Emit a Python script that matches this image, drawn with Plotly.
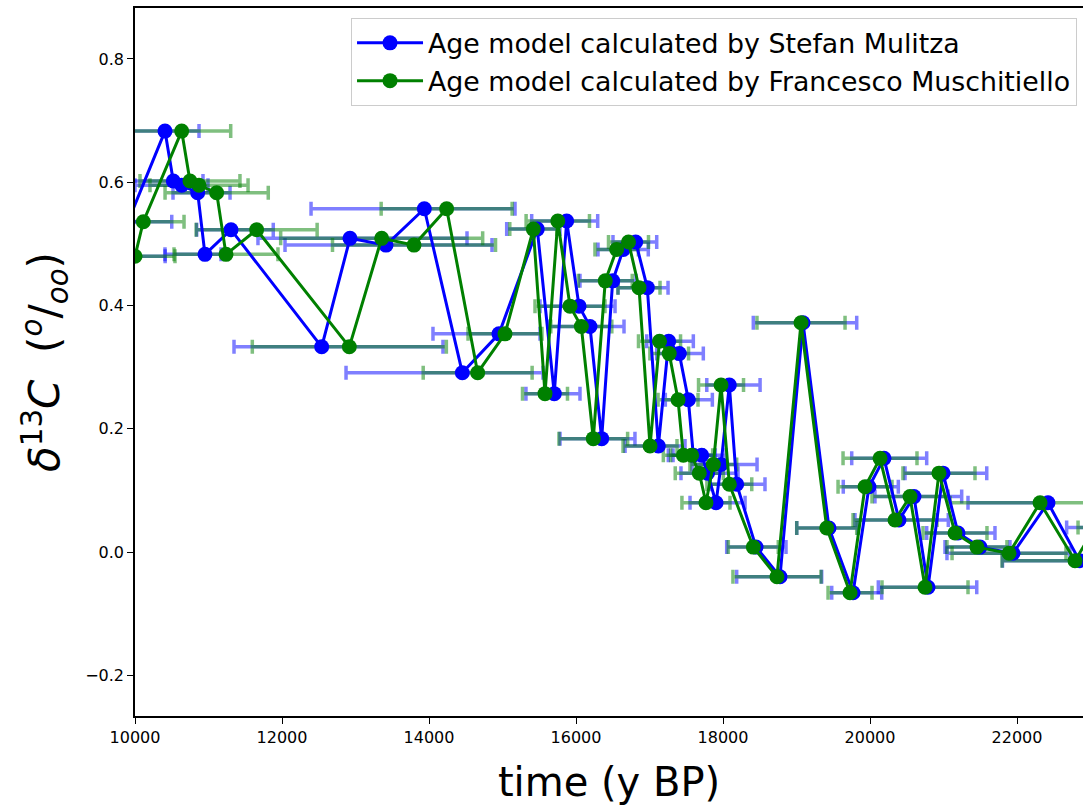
import plotly.graph_objects as go

# Shared d13C values (same samples for both age models)
d13c = [0.480, 0.536, 0.683, 0.602, 0.595, 0.583, 0.483, 0.523, 0.333, 0.509,
        0.498, 0.557, 0.291, 0.354, 0.524, 0.257, 0.537, 0.399, 0.366, 0.184,
        0.440, 0.491, 0.503, 0.429, 0.172, 0.342, 0.322, 0.247, 0.157, 0.157,
        0.128, 0.080, 0.142, 0.271, 0.110, 0.008, -0.040, 0.372, 0.039, -0.066,
        0.106, 0.152, 0.052, 0.090, -0.057, 0.128, 0.031, 0.008, -0.002, 0.080,
        -0.014, 0.040]

# Age model by Stefan Mulitza (blue)
mulitza_age = [9810, 9905, 10408, 10521, 10635, 10853, 10952, 11306, 12540, 12925,
               13415, 13936, 14453, 14952, 15473, 15704, 15873, 16041, 16190, 16349,
               16499, 16643, 16812, 16970, 17120, 17261, 17405, 17528, 17596, 17710,
               17789, 17905, 17973, 18086, 18186, 18449, 18775, 19088, 19442, 19769,
               19986, 20190, 20394, 20598, 20789, 20993, 21197, 21496, 21945, 22421,
               22850, 23265]
mulitza_err_minus = [500, 500, 700, 653, 635, 336, 544, 467, 1193, 1252,
                     1374, 1541, 1582, 898, 416, 385, 476, 531, 558, 567,
                     445, 344, 309, 399, 453, 299, 307, 313, 340, 390,
                     361, 354, 395, 307, 363, 399, 589, 676, 439, 290,
                     350, 439, 599, 531, 676, 517, 426, 476, 898, 1088,
                     1048, 590]
mulitza_err_plus = [600, 595, 463, 404, 358, 440, 218, 575, 1650, 1592,
                    1442, 1234, 1098, 558, 309, 350, 422, 490, 463, 453,
                    317, 340, 286, 282, 363, 335, 327, 327, 299, 331,
                    415, 395, 490, 418, 385, 408, 567, 731, 395, 390,
                    399, 581, 671, 649, 663, 595, 503, 408, 775, 0,
                    900, 600]

# Age model by Francesco Muschitiello (green)
musch_age = [10000, 10113, 10635, 10748, 10871, 11111, 11238, 11655, 12916, 13356,
             13796, 14240, 14662, 15034, 15419, 15578, 15752, 15918, 16072, 16235,
             16398, 16553, 16714, 16857, 17007, 17136, 17268, 17388, 17460, 17573,
             17677, 17768, 17868, 17973, 18086, 18412, 18734, 19061, 19411, 19728,
             19932, 20136, 20340, 20544, 20748, 20938, 21156, 21455, 21891, 22313,
             22789, 23061]
musch_err = [544, 554, 667, 680, 667, 702, 707, 823, 1320, 1374,
             1109, 891, 741, 503, 320, 306, 431, 476, 415, 467,
             367, 295, 272, 286, 367, 286, 263, 272, 272, 286,
             327, 327, 318, 306, 305, 340, 599, 599, 408, 299,
             367, 503, 571, 517, 585, 490, 435, 408, 775, 1224,
             993, 231]

x_ticks = [10000, 12000, 14000, 16000, 18000, 20000, 22000]
y_ticks = [-0.2, 0.0, 0.2, 0.4, 0.6, 0.8]

FONT = "DejaVu Sans"
fig = go.Figure()

# error bars (drawn below the lines)
fig.add_trace(go.Scatter(
    x=mulitza_age, y=d13c, mode="markers",
    marker=dict(size=1, color="rgba(0,0,0,0)"),
    error_x=dict(type="data", symmetric=False, array=mulitza_err_plus,
                 arrayminus=mulitza_err_minus, color="rgba(0,0,255,0.5)",
                 thickness=3.5, width=7),
    showlegend=False, hoverinfo="skip"))
fig.add_trace(go.Scatter(
    x=musch_age, y=d13c, mode="markers",
    marker=dict(size=1, color="rgba(0,0,0,0)"),
    error_x=dict(type="data", symmetric=True, array=musch_err,
                 color="rgba(0,128,0,0.5)", thickness=3.5, width=7),
    showlegend=False, hoverinfo="skip"))

fig.add_trace(go.Scatter(
    x=mulitza_age, y=d13c, mode="lines+markers",
    name="Age model calculated by Stefan Mulitza",
    line=dict(color="#0000ff", width=3),
    marker=dict(color="#0000ff", size=15)))
fig.add_trace(go.Scatter(
    x=musch_age, y=d13c, mode="lines+markers",
    name="Age model calculated by Francesco Muschitiello",
    line=dict(color="#008000", width=3),
    marker=dict(color="#008000", size=15)))

fig.update_layout(
    width=1083, height=805,
    margin=dict(l=135, r=0, t=8, b=89),
    paper_bgcolor="white", plot_bgcolor="white",
    font=dict(family=FONT, color="black", size=16),
    legend=dict(x=0.9937, y=0.986, xanchor="right", yanchor="top",
                bgcolor="rgba(255,255,255,0.8)", bordercolor="#cccccc",
                borderwidth=1, font=dict(family=FONT, size=26.8),
                itemwidth=66, tracegroupgap=0),
)
fig.update_xaxes(
    range=[10000, 22897.5], tickvals=x_ticks, tickformat="d",
    showgrid=False, zeroline=False,
    showline=True, linecolor="black", linewidth=1.5, mirror=True,
    ticks="outside", ticklen=6, tickwidth=1.2, tickcolor="black",
    tickfont=dict(family=FONT, size=16),
    title=dict(text="time (y BP)", font=dict(family=FONT, size=40), standoff=24),
)
fig.update_yaxes(
    range=[-0.266, 0.8827], tickvals=y_ticks, tickformat=".1f",
    showgrid=False, zeroline=False,
    showline=True, linecolor="black", linewidth=1.5,
    ticks="outside", ticklen=6, tickwidth=1.2, tickcolor="black",
    tickfont=dict(family=FONT, size=16),
    title=dict(text="<i>δ</i><sup>13</sup><i>C</i>  (<sup><i>o</i></sup>/<sub><i>oo</i></sub>)",
               font=dict(family=FONT, size=42), standoff=12),
)

fig.write_html("out.html", config={"displayModeBar": False},
               post_script="document.body.style.margin='0';document.body.style.overflow='hidden';")
